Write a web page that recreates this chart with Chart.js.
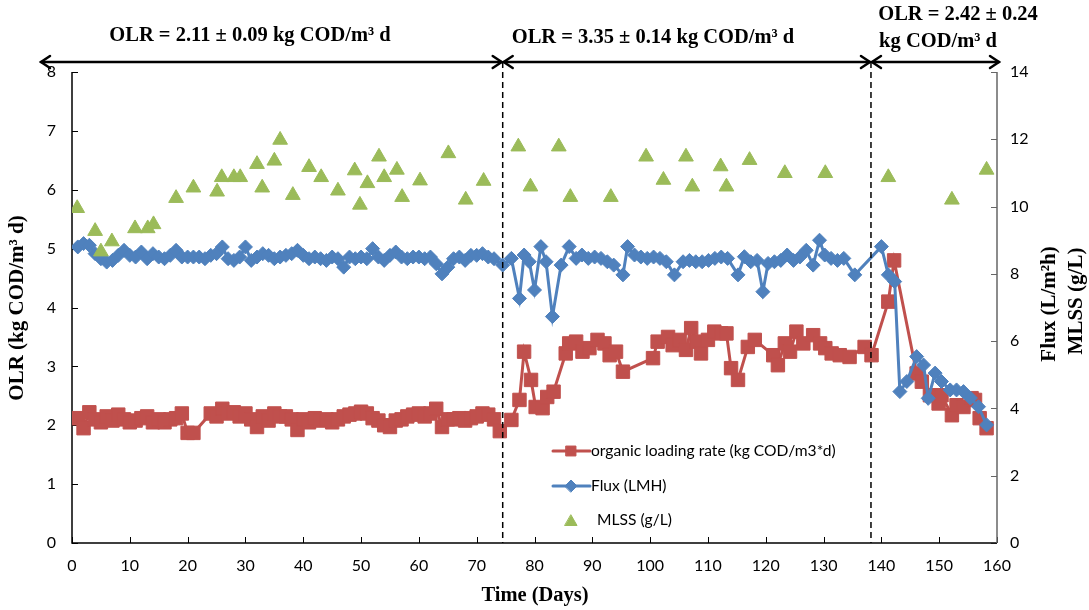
<!DOCTYPE html>
<html>
<head>
<meta charset="utf-8">
<script src="https://cdn.jsdelivr.net/npm/chart.js@4.4.0/dist/chart.umd.min.js"></script>
<style>
  html, body { margin: 0; padding: 0; background: #fff; }
  #wrap { width: 1089px; height: 610px; }
</style>
</head>
<body>
<div id="wrap"><canvas id="myChart"></canvas></div>
<script>
// ------------------------------------------------------------------
// data

// organic loading rate (kg COD/m3 d), left axis
let olrDays = [1,2,3,4,5,6,7,8,9,10,11,12,13,14,15,16,17,18,19,20,21,
  24,25,26,27,28,29,30,31,32,33,34,35,36,37,38,39,40,41,42,43,44,45,46,47,48,49,
  50,51,52,53,54,55,56,57,58,59,60,61,62,63,64,65,66,67,68,69,70,71,72,73,74,
  76,77.4,78.2,79.4,80.2,81.4,82.2,83.3,85.4,86,87.2,88.3,89.5,90.9,92.1,93,94.1,95.3,
  100.5,101.3,103.1,103.9,105.1,106.2,107.1,108,108.8,110,111.1,112.3,113.2,114,115.2,
  116.9,118.1,121.3,122.1,123.3,124.2,125.3,126.5,128.2,129.4,130.3,131.4,132.8,134.5,
  137.1,138.3,141.2,142.2,146.1,147,148.4,149.9,150.4,152.2,153,154.2,155.6,156.2,157,158.2];
let olr = [2.12,1.95,2.22,2.1,2.05,2.15,2.08,2.18,2.1,2.05,2.08,2.12,2.15,2.05,2.1,2.05,2.1,2.12,2.2,1.87,1.87,
  2.2,2.15,2.28,2.2,2.22,2.15,2.2,2.1,1.97,2.15,2.08,2.2,2.15,2.15,2.1,1.92,2.1,2.05,2.12,2.08,2.1,2.05,2.1,2.15,2.18,2.2,
  2.23,2.2,2.12,2.08,2.0,1.97,2.08,2.1,2.15,2.18,2.2,2.15,2.2,2.28,1.97,2.1,2.1,2.12,2.08,2.12,2.15,2.2,2.18,2.1,1.9,
  2.09,2.43,3.25,2.77,2.31,2.29,2.48,2.57,3.22,3.39,3.42,3.25,3.31,3.45,3.39,3.19,3.25,2.91,
  3.14,3.42,3.5,3.36,3.45,3.28,3.65,3.42,3.22,3.45,3.59,3.56,3.56,2.97,2.77,
  3.33,3.45,3.19,3.02,3.39,3.25,3.59,3.39,3.53,3.39,3.31,3.22,3.19,3.16,
  3.33,3.19,4.1,4.8,2.88,2.74,2.51,2.37,2.51,2.17,2.34,2.31,2.46,2.43,2.12,1.95];

// flux (L/m2 h), right axis
let fluxDays = [1,2,3,4,5,6,7,8,9,10,11,12,13,14,15,16,17,18,19,20,21,22,23,24,25,26,27,28,29,30,
  31,32,33,34,35,36,37,38,39,40,41,42,43,44,45,46,47,48,49,50,51,52,53,54,55,56,57,58,59,60,
  61,62,63,64,65,66,67,68,69,70,71,72,73,
  74.5,76,77.4,78.2,79.1,80,81.1,82,83.1,84.6,86,87.2,88.2,89.3,90.4,91.5,92.6,93.7,95.3,96.1,
  97.3,98.4,99.5,100.6,101.7,102.8,104.2,105.7,106.8,107.9,109,110.1,111.2,112.3,113.4,115.2,
  116.3,117.4,118.5,119.5,120.4,121.5,122.6,123.7,124.8,125.9,127,128.2,129.3,130.2,131.3,132.4,
  133.5,135.4,140,141.2,142.3,143.2,144.4,146.1,147.3,148.1,149.3,150.4,151.9,153,154.2,155.4,156.8,158.2];
let flux = [8.8,8.9,8.85,8.6,8.45,8.35,8.4,8.55,8.7,8.55,8.5,8.65,8.45,8.6,8.5,8.45,8.55,8.7,8.5,8.5,
  8.5,8.5,8.45,8.55,8.6,8.8,8.45,8.4,8.5,8.8,8.4,8.5,8.6,8.55,8.45,8.5,8.55,8.6,8.7,8.55,
  8.45,8.5,8.45,8.4,8.5,8.45,8.2,8.5,8.45,8.5,8.45,8.75,8.5,8.4,8.55,8.65,8.5,8.45,8.5,8.5,
  8.45,8.5,8.3,8.0,8.2,8.45,8.5,8.4,8.55,8.55,8.6,8.5,8.45,
  8.26,8.46,7.27,8.56,8.36,7.52,8.81,8.36,6.73,8.26,8.81,8.46,8.56,8.46,8.5,8.46,8.36,8.26,7.97,8.81,
  8.56,8.5,8.46,8.5,8.46,8.36,7.97,8.36,8.4,8.36,8.36,8.4,8.46,8.5,8.46,7.97,
  8.51,8.36,8.4,7.47,8.31,8.36,8.4,8.56,8.4,8.5,8.7,8.26,9.0,8.56,8.46,8.4,
  8.46,7.97,8.81,7.97,7.77,4.5,4.8,5.54,5.29,4.3,5.05,4.8,4.55,4.55,4.5,4.31,4.05,3.51];

// MLSS (g/L), right axis
let mlssDays = [0.9,4,5,6.9,10.9,13.1,14.1,18,21,25.1,25.9,28,29.1,32,32.9,35,36,38.2,41,43.1,46,
  48.9,49.8,51.1,53.1,54,56.2,57.1,60.2,65.1,68.1,71.2,77.2,79.3,84.2,86.2,93.2,99.3,102.3,
  106.2,107.3,112.2,113.2,117.2,123.3,130.3,141.2,152.2,158.2];
let mlss = [9.95,9.27,8.66,8.96,9.35,9.35,9.47,10.25,10.56,10.44,10.87,10.87,10.87,11.26,10.56,11.36,11.98,10.34,11.17,10.87,10.47,
  11.07,10.05,10.69,11.48,10.87,11.09,10.28,10.77,11.58,10.2,10.76,11.78,10.59,11.78,10.28,10.28,11.48,10.79,
  11.48,10.59,11.19,10.59,11.38,10.99,10.99,10.87,10.2,11.09];

// phase boundaries (days) and labels
let phaseEdges = [74.5, 138.2];
let phaseText = ["OLR = 2.11 \u00b1 0.09 kg COD/m\u00b3 d", "OLR = 3.35 \u00b1 0.14 kg COD/m\u00b3 d",
  "OLR = 2.42 \u00b1 0.24", "kg COD/m\u00b3 d"];

let seriesNames = ["organic loading rate (kg COD/m3*d)", "Flux (LMH)", "MLSS (g/L)"];
let colors = ["#C0504D", "#4F81BD", "#9BBB59"];

function pts(xs, ys) {
  return xs.map((d, i) => ({x: d, y: ys[i]}));
}

// ------------------------------------------------------------------
// annotations, axis titles, inside tick marks, legend

const extras = {
  id: "extras",
  beforeDatasetsDraw(chart) {
    const {ctx, chartArea: a, scales} = chart;
    ctx.save();
    ctx.lineWidth = 1;
    ctx.strokeStyle = "#000";
    // inside tick marks
    for (let v = 0; v <= 160; v += 10) {
      const px = Math.round(scales.x.getPixelForValue(v)) + 0.5;
      ctx.beginPath(); ctx.moveTo(px, a.bottom); ctx.lineTo(px, a.bottom - 6); ctx.stroke();
    }
    for (let v = 0; v <= 8; v += 1) {
      const py = Math.round(scales.y.getPixelForValue(v)) + 0.5;
      ctx.beginPath(); ctx.moveTo(a.left, py); ctx.lineTo(a.left + 6, py); ctx.stroke();
    }
    ctx.strokeStyle = "#666";
    for (let v = 0; v <= 14; v += 2) {
      const py = Math.round(scales.y2.getPixelForValue(v)) + 0.5;
      ctx.beginPath(); ctx.moveTo(a.right, py); ctx.lineTo(a.right - 6, py); ctx.stroke();
    }
    // axis lines
    ctx.lineWidth = 1.5;
    ctx.strokeStyle = "#000";
    ctx.beginPath();
    ctx.moveTo(a.left, a.top); ctx.lineTo(a.left, a.bottom); ctx.lineTo(a.right, a.bottom);
    ctx.stroke();
    ctx.strokeStyle = "#666";
    ctx.beginPath(); ctx.moveTo(a.right, a.top); ctx.lineTo(a.right, a.bottom); ctx.stroke();
    ctx.restore();
  },
  afterDatasetsDraw(chart) {
    const {ctx, chartArea: a, scales} = chart;
    const arrowY = 62;
    ctx.save();
    // dashed phase lines
    ctx.strokeStyle = "#000";
    ctx.lineWidth = 1.5;
    ctx.setLineDash([6, 4]);
    phaseEdges.forEach(d => {
      const px = scales.x.getPixelForValue(d);
      ctx.beginPath(); ctx.moveTo(px, arrowY); ctx.lineTo(px, a.bottom); ctx.stroke();
    });
    ctx.setLineDash([]);

    // double headed arrows
    const stops = [40, scales.x.getPixelForValue(phaseEdges[0]), scales.x.getPixelForValue(phaseEdges[1]), 1000];
    ctx.lineWidth = 2.5;
    ctx.lineCap = "round";
    for (let i = 0; i < 3; i++) {
      const x1 = stops[i] + 1, x2 = stops[i + 1] - 1;
      ctx.beginPath(); ctx.moveTo(x1, arrowY); ctx.lineTo(x2, arrowY); ctx.stroke();
      ctx.beginPath();
      ctx.moveTo(x1 + 9, arrowY - 6); ctx.lineTo(x1, arrowY); ctx.lineTo(x1 + 9, arrowY + 6);
      ctx.moveTo(x2 - 9, arrowY - 6); ctx.lineTo(x2, arrowY); ctx.lineTo(x2 - 9, arrowY + 6);
      ctx.stroke();
    }

    // phase labels
    ctx.fillStyle = "#000";
    ctx.font = "bold 20.5px 'Liberation Serif'";
    ctx.textAlign = "center";
    ctx.textBaseline = "middle";
    ctx.fillText(phaseText[0], 250, 36);
    ctx.fillText(phaseText[1], 653, 38);
    ctx.fillText(phaseText[2], 958, 15);
    ctx.fillText(phaseText[3], 938, 42);

    // axis titles
    ctx.fillText("Time (Days)", 535, 596);
    ctx.font = "bold 21px 'Liberation Serif'";
    ctx.save();
    ctx.translate(18, 308); ctx.rotate(-Math.PI / 2);
    ctx.fillText("OLR (kg COD/m\u00b3 d)", 0, 0);
    ctx.restore();
    ctx.save();
    ctx.translate(1050, 304); ctx.rotate(-Math.PI / 2);
    ctx.fillText("Flux (L/m\u00b2h)", 0, 0);
    ctx.restore();
    ctx.save();
    ctx.translate(1077, 301); ctx.rotate(-Math.PI / 2);
    ctx.fillText("MLSS (g/L)", 0, 0);
    ctx.restore();

    // legend
    const rows = [451, 486, 520];
    const styles = ["rect", "rectRot", "triangle"];
    const radii = [7, 6, 7];
    ctx.font = "15.6px Lato";
    ctx.textAlign = "left";
    rows.forEach((ry, i) => {
      if (i < 2) {
        ctx.strokeStyle = colors[i];
        ctx.lineWidth = 3;
        ctx.beginPath(); ctx.moveTo(553, ry); ctx.lineTo(590, ry); ctx.stroke();
      }
      ctx.fillStyle = colors[i];
      ctx.strokeStyle = colors[i];
      ctx.lineWidth = 1;
      Chart.helpers.drawPoint(ctx, {pointStyle: styles[i], radius: radii[i], rotation: 0, borderWidth: 1}, 571, ry + (i === 2 ? 2 : 0));
      ctx.fillStyle = "#000";
      ctx.fillText(seriesNames[i], i === 2 ? 597 : 591, ry);
    });
    ctx.restore();
  }
};

// ------------------------------------------------------------------
// chart

const tickFont = {family: "Lato", size: 16};

new Chart("myChart", {
  type: "line",
  data: {
    datasets: [{
      label: seriesNames[0],
      data: pts(olrDays, olr),
      yAxisID: "y",
      borderColor: colors[0],
      backgroundColor: colors[0],
      borderWidth: 3,
      pointStyle: "rect",
      pointRadius: 9.5,
      pointBorderWidth: 1,
      order: 3,
      fill: false
    }, {
      label: seriesNames[1],
      data: pts(fluxDays, flux),
      yAxisID: "y2",
      borderColor: colors[1],
      backgroundColor: colors[1],
      borderWidth: 3,
      pointStyle: "rectRot",
      pointRadius: 7,
      pointBorderWidth: 1,
      order: 2,
      fill: false
    }, {
      label: seriesNames[2],
      data: pts(mlssDays, mlss),
      yAxisID: "y2",
      showLine: false,
      borderColor: colors[2],
      backgroundColor: colors[2],
      pointStyle: "triangle",
      pointRadius: 8.5,
      pointBorderWidth: 1,
      order: 1
    }]
  },
  options: {
    responsive: true,
    maintainAspectRatio: false,
    animation: false,
    layout: {padding: {top: 72, left: 0, right: 0, bottom: 0}},
    plugins: {
      legend: {display: false},
      tooltip: {enabled: false}
    },
    scales: {
      x: {
        type: "linear",
        min: 0, max: 160,
        ticks: {stepSize: 10, padding: 13, color: "#000", font: tickFont, maxRotation: 0},
        grid: {display: false, drawTicks: false},
        border: {display: false},
        afterFit(s) { s.height = 67; }
      },
      y: {
        position: "left",
        min: 0, max: 8,
        ticks: {stepSize: 1, padding: 16, color: "#000", font: tickFont},
        grid: {display: false, drawTicks: false},
        border: {display: false},
        afterFit(s) { s.width = 72; }
      },
      y2: {
        position: "right",
        min: 0, max: 14,
        ticks: {stepSize: 2, padding: 13, color: "#000", font: tickFont},
        grid: {display: false, drawTicks: false},
        border: {display: false},
        afterFit(s) { s.width = 92; }
      }
    }
  },
  plugins: [extras]
});
</script>
</body>
</html>
